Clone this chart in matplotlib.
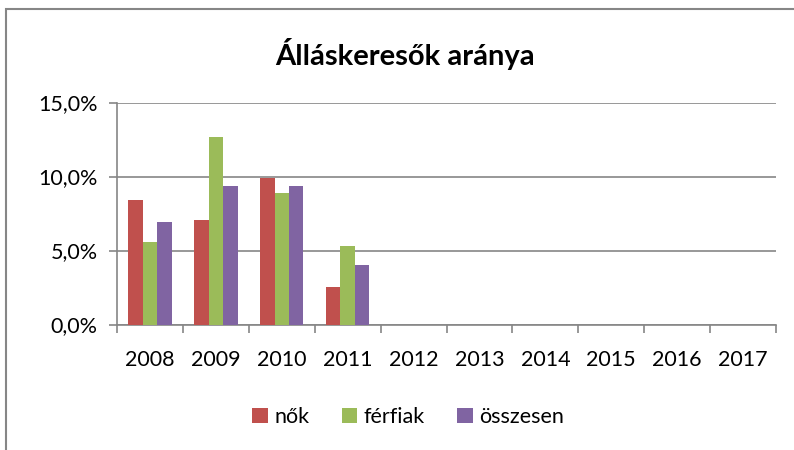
import numpy as np
import matplotlib
matplotlib.use('Agg')
import matplotlib.pyplot as plt
import matplotlib.patches as mpatches
from matplotlib.ticker import FuncFormatter

plt.rcParams['font.family'] = ['Lato', 'DejaVu Sans']

years = ['2008', '2009', '2010', '2011', '2012', '2013', '2014', '2015', '2016', '2017']
nok = [8.4, 7.05, 9.9, 2.55, np.nan, np.nan, np.nan, np.nan, np.nan, np.nan]
ferfiak = [5.6, 12.65, 8.9, 5.3, np.nan, np.nan, np.nan, np.nan, np.nan, np.nan]
osszesen = [6.9, 9.35, 9.35, 4.0, np.nan, np.nan, np.nan, np.nan, np.nan, np.nan]
series = [('nők', nok, '#C0504D'), ('férfiak', ferfiak, '#9BBB59'), ('összesen', osszesen, '#8064A2')]

fig = plt.figure(figsize=(7.94, 4.5), dpi=100)
ax = fig.add_axes([117 / 794, 1 - 324.5 / 450, (776 - 117) / 794, (324.5 - 102.5) / 450])

x = np.arange(len(years))
w = 0.22
for i, (name, vals, col) in enumerate(series):
    ax.bar(x + (i - 1) * w, vals, width=w, color=col, label=name, zorder=3)

ax.set_xlim(-0.5, len(years) - 0.5)
ax.set_ylim(0, 15)
ax.set_yticks([0, 5, 10, 15])
ax.yaxis.set_major_formatter(FuncFormatter(lambda v, p: ('%.1f%%' % v).replace('.', ',')))
ax.set_xticks(x)
ax.set_xticklabels(years)
ax.set_xticks(np.arange(-0.5, len(years)), minor=True)
ax.tick_params(axis='x', which='major', length=0, pad=18, labelsize=15.5)
ax.tick_params(axis='x', which='minor', length=6, width=1.2, color='#868686', direction='out')
ax.tick_params(axis='y', length=6, width=1.2, color='#868686', pad=8, labelsize=15.5)

ax.grid(axis='y', color='#868686', linewidth=1.2, zorder=0)
for s in ['top', 'right']:
    ax.spines[s].set_visible(False)
for s in ['left', 'bottom']:
    ax.spines[s].set_color('#868686')
    ax.spines[s].set_linewidth(1.2)

fig.text(405 / 794, 1 - 54 / 450, 'Álláskeresők aránya', ha='center', va='center',
         fontsize=21, fontweight='bold')

ax.legend(loc='center', bbox_to_anchor=(408 / 794, 1 - 417 / 450), bbox_transform=fig.transFigure,
          ncol=3, frameon=False, fontsize=15.5, handlelength=0.72, handleheight=0.72,
          handletextpad=0.3, columnspacing=1.5)

fig.patches.append(mpatches.Rectangle((6 / 794, -0.05), 1.0, 1 - 9 / 450 + 0.05,
                                      transform=fig.transFigure, fill=False,
                                      edgecolor='#868686', linewidth=1.5))

fig.savefig('out.png', dpi=100)
